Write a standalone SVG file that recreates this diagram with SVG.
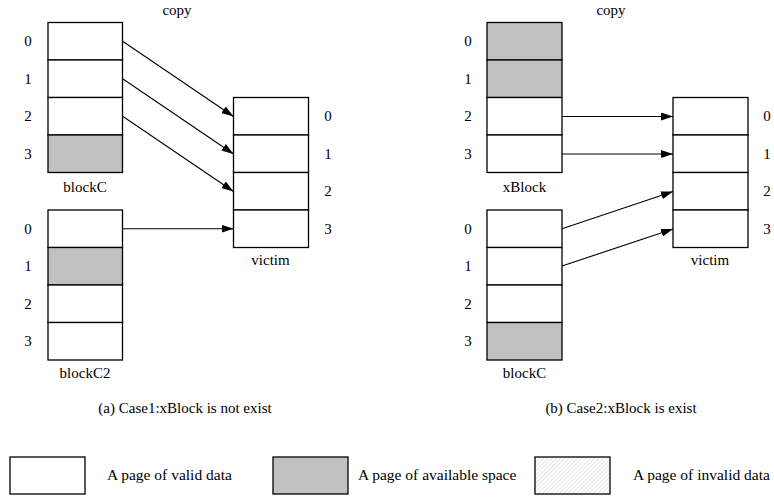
<svg xmlns="http://www.w3.org/2000/svg" width="774" height="497" viewBox="0 0 774 497">
<style>
.t{font-family:"Liberation Serif","DejaVu Serif","Times New Roman",serif;font-size:15px;fill:#000;text-anchor:middle}
.lg{font-family:"Liberation Serif","DejaVu Serif","Times New Roman",serif;font-size:15.5px;fill:#000}
.v{fill:#fff;stroke:#000;stroke-width:1.3}
.a{fill:#c0c0c0;stroke:#000;stroke-width:1.3}
.h{fill:url(#hatch);stroke:#000;stroke-width:1.3}
.c{stroke:#000;stroke-width:1.1;fill:none;marker-end:url(#arr)}
</style>
<defs>
<marker id="arr" markerWidth="12" markerHeight="8" refX="12" refY="4" orient="auto" markerUnits="userSpaceOnUse">
<path d="M0,0 L12,4 L0,8 Z" fill="#000"/>
</marker>
<pattern id="hatch" width="3" height="3" patternUnits="userSpaceOnUse" patternTransform="rotate(45)">
<rect width="3" height="3" fill="#fff"/>
<line x1="0" y1="0" x2="0" y2="3" stroke="#d0d0d0" stroke-width="1"/>
</pattern>
</defs>
<rect width="774" height="497" fill="#fff"/>

<g id="left-copy"><text class="t" x="177" y="15">copy</text></g>

<g id="blockC-left">
<rect class="v" x="48" y="22.5" width="74.5" height="37.5"/>
<rect class="v" x="48" y="60" width="74.5" height="37.5"/>
<rect class="v" x="48" y="97.5" width="74.5" height="37.5"/>
<rect class="a" x="48" y="135" width="74.5" height="37.5"/>
<text class="t" x="28" y="46">0</text>
<text class="t" x="28" y="84">1</text>
<text class="t" x="28" y="121">2</text>
<text class="t" x="28" y="159">3</text>
<text class="t" x="85" y="192">blockC</text>
</g>

<g id="blockC2-left">
<rect class="v" x="48" y="210" width="74.5" height="37.5"/>
<rect class="a" x="48" y="247.5" width="74.5" height="37.5"/>
<rect class="v" x="48" y="285" width="74.5" height="37.5"/>
<rect class="v" x="48" y="322.5" width="74.5" height="37.5"/>
<text class="t" x="28" y="234">0</text>
<text class="t" x="28" y="271">1</text>
<text class="t" x="28" y="309">2</text>
<text class="t" x="28" y="346">3</text>
<text class="t" x="85" y="378">blockC2</text>
</g>

<g id="victim-left">
<rect class="v" x="233.5" y="97.5" width="75" height="37.5"/>
<rect class="v" x="233.5" y="135" width="75" height="37.5"/>
<rect class="v" x="233.5" y="172.5" width="75" height="37.5"/>
<rect class="v" x="233.5" y="210" width="75" height="37.5"/>
<text class="t" x="328" y="121">0</text>
<text class="t" x="328" y="159">1</text>
<text class="t" x="328" y="196">2</text>
<text class="t" x="328" y="234">3</text>
<text class="t" x="270.5" y="265">victim</text>
</g>

<g id="caption-a"><text class="t" x="185" y="413">(a) Case1:xBlock is not exist</text></g>

<g id="right-copy"><text class="t" x="611" y="15">copy</text></g>

<g id="xBlock-right">
<rect class="a" x="487" y="22.5" width="75" height="37.5"/>
<rect class="a" x="487" y="60" width="75" height="37.5"/>
<rect class="v" x="487" y="97.5" width="75" height="37.5"/>
<rect class="v" x="487" y="135" width="75" height="37.5"/>
<text class="t" x="468" y="46">0</text>
<text class="t" x="468" y="84">1</text>
<text class="t" x="468" y="121">2</text>
<text class="t" x="468" y="159">3</text>
<text class="t" x="524.5" y="192">xBlock</text>
</g>

<g id="blockC-right">
<rect class="v" x="487" y="210" width="75" height="37.5"/>
<rect class="v" x="487" y="247.5" width="75" height="37.5"/>
<rect class="v" x="487" y="285" width="75" height="37.5"/>
<rect class="a" x="487" y="322.5" width="75" height="37.5"/>
<text class="t" x="468" y="234">0</text>
<text class="t" x="468" y="271">1</text>
<text class="t" x="468" y="309">2</text>
<text class="t" x="468" y="346">3</text>
<text class="t" x="524.5" y="378">blockC</text>
</g>

<g id="victim-right">
<rect class="v" x="673" y="97.5" width="75" height="37.5"/>
<rect class="v" x="673" y="135" width="75" height="37.5"/>
<rect class="v" x="673" y="172.5" width="75" height="37.5"/>
<rect class="v" x="673" y="210" width="75" height="37.5"/>
<text class="t" x="767" y="121">0</text>
<text class="t" x="767" y="159">1</text>
<text class="t" x="767" y="196">2</text>
<text class="t" x="767" y="234">3</text>
<text class="t" x="710" y="265">victim</text>
</g>

<g id="caption-b"><text class="t" x="621" y="413">(b) Case2:xBlock is exist</text></g>

<g id="connectors">
<line class="c" x1="123" y1="41.5" x2="233.5" y2="116.5"/>
<line class="c" x1="123" y1="79" x2="233.5" y2="154"/>
<line class="c" x1="123" y1="116.5" x2="233.5" y2="191.5"/>
<line class="c" x1="123" y1="228.75" x2="233.5" y2="228.75"/>
<line class="c" x1="562" y1="116.5" x2="673" y2="116.5"/>
<line class="c" x1="562" y1="154" x2="673" y2="154"/>
<line class="c" x1="562" y1="228.75" x2="673" y2="191.5"/>
<line class="c" x1="562" y1="266" x2="673" y2="229"/>
</g>

<g id="legend-valid">
<rect class="v" x="10" y="457" width="75" height="37"/>
<text class="lg" x="107" y="480">A page of valid data</text>
</g>
<g id="legend-available">
<rect class="a" x="273" y="457" width="75" height="37"/>
<text class="lg" x="358" y="480">A page of available space</text>
</g>
<g id="legend-invalid">
<rect class="h" x="535" y="457" width="75" height="37"/>
<text class="lg" x="633" y="480">A page of invalid data</text>
</g>
</svg>
